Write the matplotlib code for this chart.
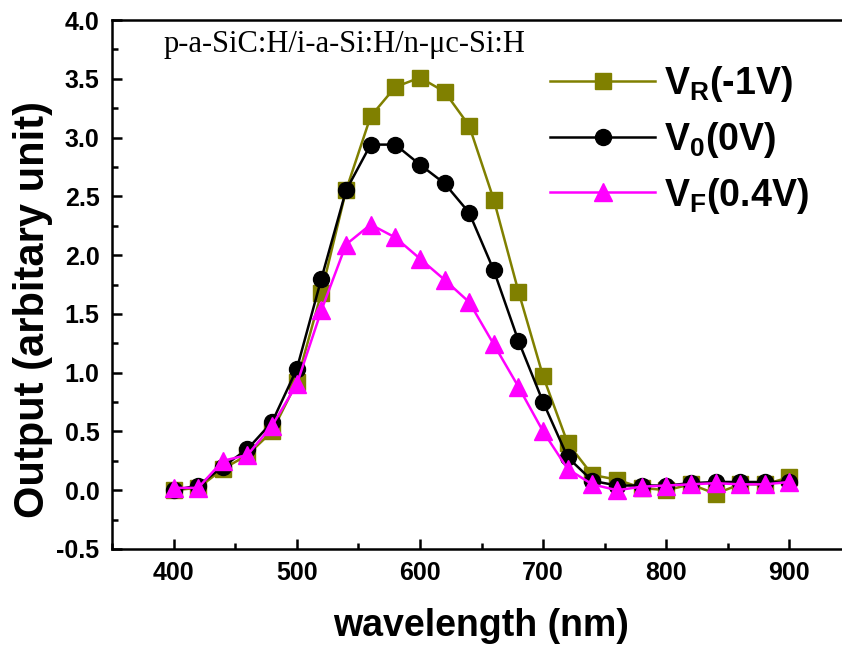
import matplotlib
matplotlib.use("Agg")
import matplotlib.pyplot as plt
from matplotlib.ticker import MultipleLocator, FormatStrFormatter

wavelength = [400, 420, 440, 460, 480, 500, 520, 540, 560, 580, 600, 620, 640,
              660, 680, 700, 720, 740, 760, 780, 800, 820, 840, 860, 880, 900]
v_r = [0.00, 0.02, 0.18, 0.30, 0.50, 0.92, 1.68, 2.55, 3.18, 3.43, 3.51, 3.39, 3.10,
       2.47, 1.69, 0.97, 0.40, 0.13, 0.09, 0.02, 0.00, 0.05, -0.03, 0.05, 0.05, 0.11]
v_0 = [0.00, 0.04, 0.20, 0.35, 0.58, 1.03, 1.80, 2.55, 2.94, 2.94, 2.77, 2.61, 2.36,
       1.87, 1.27, 0.75, 0.28, 0.08, 0.04, 0.04, 0.04, 0.06, 0.07, 0.07, 0.07, 0.07]
v_f = [0.02, 0.02, 0.25, 0.30, 0.55, 0.90, 1.53, 2.09, 2.26, 2.15, 1.97, 1.79, 1.60,
       1.24, 0.88, 0.50, 0.18, 0.05, 0.00, 0.03, 0.04, 0.05, 0.06, 0.05, 0.05, 0.07]
labels = [r"V$_\mathbf{R}$(-1V)", r"V$_\mathbf{0}$(0V)", r"V$_\mathbf{F}$(0.4V)"]
colors = ["#808000", "#000000", "#FF00FF"]
markers = ["s", "o", "^"]
annotation = "p-a-SiC:H/i-a-Si:H/n-\u03bcc-Si:H"

plt.rcParams["font.family"] = ["Liberation Sans", "DejaVu Sans"]
plt.rcParams["mathtext.fontset"] = "custom"
plt.rcParams["mathtext.bf"] = "Liberation Sans:bold"
plt.rcParams["mathtext.rm"] = "Liberation Sans:bold"

fig = plt.figure(figsize=(8.42, 6.5), dpi=100)
ax = fig.add_axes([112/842, 1 - 549/650, 739/842, 529/650])

for y, lab, c, m, ms in zip([v_r, v_0, v_f], labels, colors, markers, [11, 11.5, 12.5]):
    ax.plot(wavelength, y, color=c, marker=m, markersize=ms, linewidth=1.8,
            label=lab, markeredgecolor=c, markerfacecolor=c)

ax.set_xlim(350, 950)
ax.set_ylim(-0.5, 4.0)
ax.xaxis.set_major_locator(MultipleLocator(100))
ax.xaxis.set_minor_locator(MultipleLocator(50))
ax.yaxis.set_major_locator(MultipleLocator(0.5))
ax.yaxis.set_minor_locator(MultipleLocator(0.25))
ax.yaxis.set_major_formatter(FormatStrFormatter("%.1f"))
ax.set_xticks([400, 500, 600, 700, 800, 900])

for s in ax.spines.values():
    s.set_linewidth(1.8)
ax.tick_params(which="both", direction="in", width=1.8, top=False, right=False)
ax.tick_params(which="major", length=7.5, labelsize=18, pad=9)
ax.tick_params(which="minor", length=4)
for t in ax.get_xticklabels() + ax.get_yticklabels():
    t.set_fontweight("bold")

ax.set_xlabel("wavelength (nm)", fontsize=27, fontweight="bold", labelpad=16)
ax.set_ylabel("Output (arbitary unit)", fontsize=30, fontweight="bold")
ax.yaxis.set_label_coords((33 - 112) / 739, (549 - 309) / 529)
ax.yaxis.label.set_va("center")

ax.text(400 - 8, 3.79, annotation, fontsize=22, family="Liberation Serif",
        va="center", ha="left")

leg = fig.legend(loc="upper left", bbox_to_anchor=(550 / 842, 1 - 64 / 650),
                 frameon=False, prop={"size": 27, "weight": "bold"},
                 handlelength=2.8, handletextpad=0.25, labelspacing=0.42,
                 borderaxespad=0, borderpad=0)

fig.savefig("out.png", dpi=100)
